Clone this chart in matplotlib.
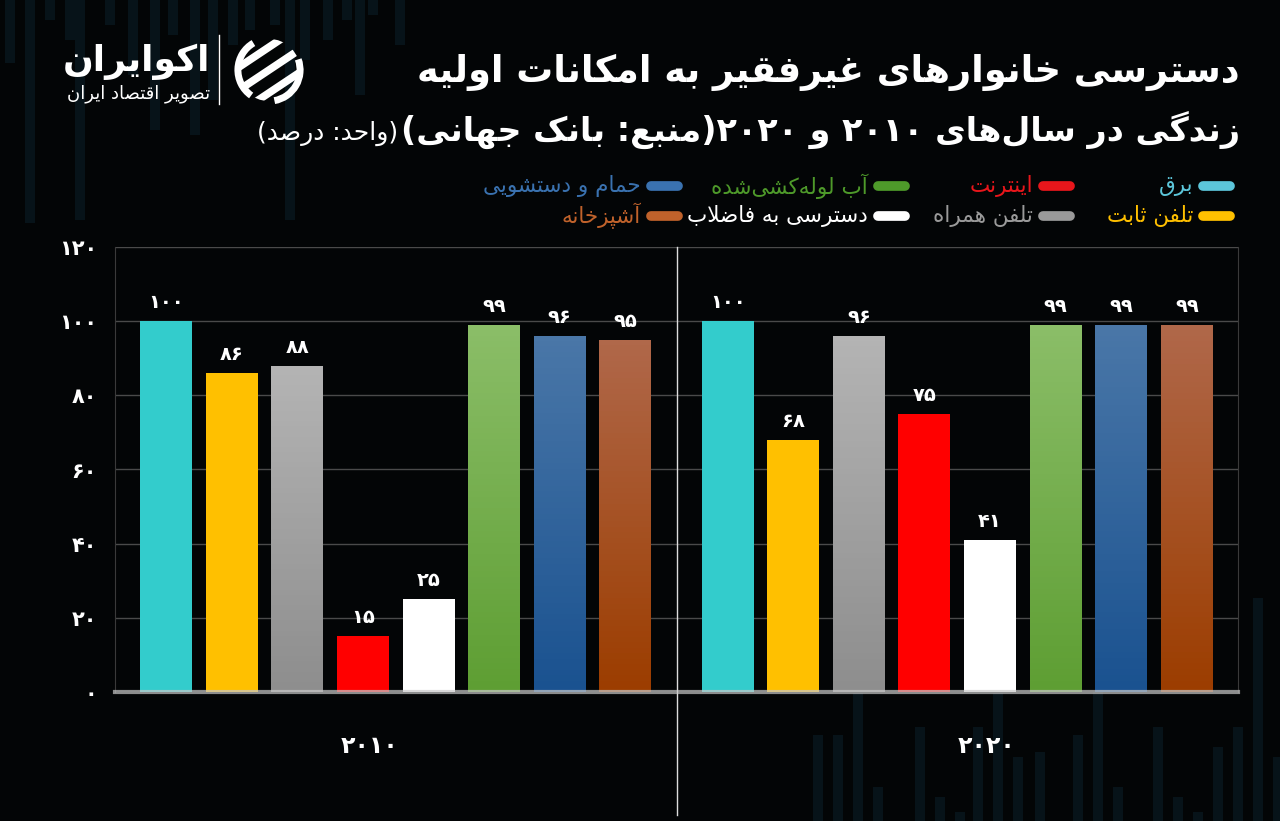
import re
import numpy as np
import matplotlib.pyplot as plt
from matplotlib.lines import Line2D
from matplotlib.patches import Circle, Rectangle, Arc
from matplotlib.colors import LinearSegmentedColormap
from matplotlib.transforms import blended_transform_factory

plt.rcParams['font.family'] = ['DejaVu Sans']

## data
years = ['۲۰۱۰', '۲۰۲۰']
categories = ['برق', 'تلفن ثابت', 'تلفن همراه', 'اینترنت', 'دسترسی به فاضلاب',
              'آب لوله‌کشی‌شده', 'حمام و دستشویی', 'آشپزخانه']
values_2010 = [100, 86, 88, 15, 25, 99, 96, 95]
values_2020 = [100, 68, 96, 75, 41, 99, 99, 99]
yticks = [0, 20, 40, 60, 80, 100, 120]

title_line1 = 'دسترسی خانوارهای غیرفقیر به امکانات اولیه'
title_line2 = 'زندگی در سال‌های ۲۰۱۰ و ۲۰۲۰(منبع: بانک جهانی)'
unit_text = '(واحد: درصد)'
brand = 'اکوایران'
brand_sub = 'تصویر اقتصاد ایران'

# bar gradients (top, bottom) and legend text colours
bar_colors = [('#33CCCC', '#33CCCC'), ('#FFC000', '#FFC000'), ('#B4B4B4', '#8E8E8E'),
              ('#FF0000', '#FF0000'), ('#FFFFFF', '#FFFFFF'), ('#8BBE68', '#5E9E33'),
              ('#4A77A8', '#1A5290'), ('#B0684A', '#9C3D00')]
legend_colors = ['#5CC6DA', '#FFC000', '#9A9A9A', '#E8161B', '#FFFFFF',
                 '#4E9A2A', '#3A72B0', '#C0622B']

# decorative background stripes (x px, end y px)
stripes_top = [(5, 63), (25, 223), (45, 20), (65, 40), (75, 220), (105, 25), (128, 75),
               (150, 130), (168, 35), (190, 135), (208, 100), (228, 45), (245, 30),
               (270, 25), (285, 220), (300, 60), (323, 40), (342, 20), (355, 95),
               (368, 15), (395, 45)]
stripes_bottom = [(813, 735), (833, 735), (853, 693), (873, 787), (915, 727), (935, 797),
                  (955, 812), (973, 727), (993, 693), (1013, 757), (1035, 752),
                  (1073, 735), (1093, 687), (1113, 787), (1153, 727), (1173, 797),
                  (1193, 812), (1213, 747), (1233, 727), (1253, 598), (1273, 757)]

## minimal Persian shaping (matplotlib has no bidi / joining support)
DUAL = {'ب': 0xFE8F, 'پ': 0xFB56, 'ت': 0xFE95, 'ث': 0xFE99, 'ج': 0xFE9D, 'چ': 0xFB7A,
        'ح': 0xFEA1, 'خ': 0xFEA5, 'س': 0xFEB1, 'ش': 0xFEB5, 'ص': 0xFEB9, 'ض': 0xFEBD,
        'ط': 0xFEC1, 'ظ': 0xFEC5, 'ع': 0xFEC9, 'غ': 0xFECD, 'ف': 0xFED1, 'ق': 0xFED5,
        'ک': 0xFB8E, 'گ': 0xFB92, 'ل': 0xFEDD, 'م': 0xFEE1, 'ن': 0xFEE5, 'ه': 0xFEE9,
        'ی': 0xFBFC, 'ئ': 0xFE89}
RIGHT = {'ا': 0xFE8D, 'آ': 0xFE81, 'د': 0xFEA9, 'ذ': 0xFEAB, 'ر': 0xFEAD, 'ز': 0xFEAF,
         'ژ': 0xFB8A, 'و': 0xFEED}


def shape(text):
    out = []
    i = 0
    n = len(text)
    while i < n:
        c = text[i]
        prev = text[i - 1] if i > 0 else ''
        nxt = text[i + 1] if i + 1 < n else ''
        if c == 'ل' and nxt in ('ا', 'آ'):
            base = 0xFEFB if nxt == 'ا' else 0xFEF5
            out.append(chr(base + (1 if prev in DUAL else 0)))
            i += 2
            continue
        if c in DUAL or c in RIGHT:
            p = prev in DUAL
            q = c in DUAL and (nxt in DUAL or nxt in RIGHT)
            base = DUAL.get(c, RIGHT.get(c))
            form = 3 if (p and q) else 2 if q else 1 if p else 0
            out.append(chr(base + form))
        elif c != '\u200c':
            out.append(c)
        i += 1
    return ''.join(out)


def fa(text):
    runs = re.findall(r'[0-9۰-۹]+|[^0-9۰-۹]', shape(text))
    mirror = {'(': ')', ')': '('}
    return ''.join(mirror.get(r, r) for r in reversed(runs))


def fa_num(v):
    return str(v).translate(str.maketrans('0123456789', '۰۱۲۳۴۵۶۷۸۹'))


## figure
W, H = 1280, 821
fig = plt.figure(figsize=(W / 100, H / 100), dpi=100, facecolor='#030506')

for x, yend in stripes_top:
    fig.add_artist(Rectangle((x / W, 1 - yend / H), 10 / W, yend / H,
                             facecolor='#071319', edgecolor='none', zorder=0))
for x, ytop in stripes_bottom:
    fig.add_artist(Rectangle((x / W, 0), 10 / W, (H - ytop) / H,
                             facecolor='#071319', edgecolor='none', zorder=0))

ax = fig.add_axes([115 / W, 1 - 692 / H, 1123 / W, 445 / H])
ax.set_facecolor('#030506')

n = len(categories)
step = 0.1168
width = 0.0926
offsets = (np.arange(n) - (n - 1) / 2) * step

for g, vals in enumerate([values_2010, values_2020]):
    bars = ax.bar(g + offsets, vals, width=width, color='none', zorder=3)
    for i, b in enumerate(bars):
        top, bot = bar_colors[i]
        cmap = LinearSegmentedColormap.from_list('g', [bot, top])
        x0, w, h = b.get_x(), b.get_width(), b.get_height()
        im = ax.imshow(np.linspace(0, 1, 64).reshape(-1, 1), cmap=cmap, origin='lower',
                       extent=[x0, x0 + w, 0, h], aspect='auto', zorder=3)
        im.set_clip_path(b)
        ax.text(x0 + w / 2, h + 2.4, fa_num(vals[i]), ha='center', va='bottom',
                color='white', fontsize=14, fontweight='bold', zorder=5)

ax.set_xlim(-0.5, 1.5)
ax.set_ylim(0, 120)
ax.set_yticks(yticks)
ax.set_yticklabels([fa_num(t) for t in yticks], color='white', fontsize=15, fontweight='bold')
ax.tick_params(axis='y', length=0, pad=13)
ax.set_xticks([])
ax.grid(axis='y', color='#4a4a4a', linewidth=1, zorder=0)
ax.set_axisbelow(True)
for s in ['left', 'right', 'top']:
    ax.spines[s].set_visible(s != 'top')
    ax.spines[s].set_color('#3a3a3a')
ax.spines['bottom'].set_color('#c8c8c8')
ax.spines['bottom'].set_alpha(0.7)
ax.spines['bottom'].set_linewidth(3)
ax.spines['bottom'].set_zorder(6)

# group divider running below the axis
ax.axvline(0.5, ymin=-0.276, ymax=1, color='#dddddd', linewidth=1, clip_on=False, zorder=4)

trans = blended_transform_factory(ax.transData, ax.transAxes)
for g, (yr, dx) in enumerate(zip(years, [-0.047, 0.052])):
    ax.text(g + dx, -0.121, yr, transform=trans, ha='center', va='center',
            color='white', fontsize=17, fontweight='bold')

## title
fig.text(1240 / W, 1 - 72 / H, fa(title_line1), ha='right', va='center',
         color='white', fontsize=26.5, fontweight='bold')
fig.text(1240 / W, 1 - 130 / H, fa(title_line2), ha='right', va='center',
         color='white', fontsize=24, fontweight='bold')
fig.text(398 / W, 1 - 133 / H, fa(unit_text), ha='right', va='center',
         color='white', fontsize=18)

## legend (right to left, two rows)
col_right = [1233, 1073, 908, 681]
row_y = [186, 216]
legend_pos = {0: (0, 0), 3: (0, 1), 5: (0, 2), 6: (0, 3),
              1: (1, 0), 2: (1, 1), 4: (1, 2), 7: (1, 3)}
for k, name in enumerate(categories):
    r, c = legend_pos[k]
    xr = col_right[c]
    y = 1 - row_y[r] / H
    fig.add_artist(Line2D([(xr - 30) / W, (xr - 3) / W], [y, y], color=legend_colors[k],
                          linewidth=7, solid_capstyle='round'))
    fig.text((xr - 40) / W, y, fa(name), ha='right', va='center',
             color=legend_colors[k], fontsize=15.5)

## logo
fig.text(210 / W, 1 - 62 / H, fa(brand), ha='right', va='center',
         color='white', fontsize=26, fontweight='bold')
fig.text(210 / W, 1 - 94 / H, fa(brand_sub), ha='right', va='center',
         color='white', fontsize=13)
fig.add_artist(Line2D([219 / W, 219 / W], [1 - 35 / H, 1 - 104 / H], color='white', linewidth=1))
lax = fig.add_axes([233 / W, 1 - 106 / H, 72 / W, 72 / H])
lax.set_xlim(-1.1, 1.1)
lax.set_ylim(-1.1, 1.1)
lax.axis('off')
lax.add_patch(Arc((0, 0), 1.9, 1.9, theta1=120, theta2=235, color='white', linewidth=5))
lax.add_patch(Arc((0, 0), 1.9, 1.9, theta1=-80, theta2=20, color='white', linewidth=5))
clip = Circle((0, 0), 0.95, transform=lax.transData)
for c0 in [-0.7, 0.0, 0.7]:
    ln, = lax.plot([-1.2, 1.2], [c0 - 0.8, c0 + 0.8], color='white', linewidth=5.5,
                   solid_capstyle='butt')
    ln.set_clip_path(clip)

fig.savefig('out.png', dpi=100, facecolor=fig.get_facecolor())
